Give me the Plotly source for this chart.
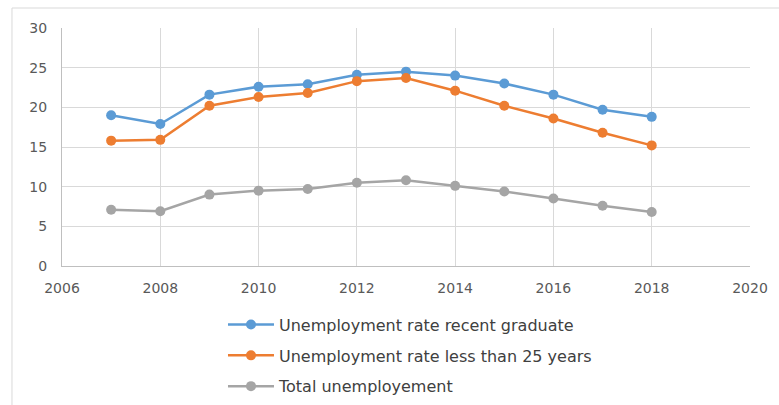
import plotly.graph_objects as go

years = [2007, 2008, 2009, 2010, 2011, 2012, 2013, 2014, 2015, 2016, 2017, 2018]
recent_graduate = [19.0, 17.9, 21.6, 22.6, 22.9, 24.1, 24.5, 24.0, 23.0, 21.6, 19.7, 18.8]
less_than_25 = [15.8, 15.9, 20.2, 21.3, 21.8, 23.3, 23.7, 22.1, 20.2, 18.6, 16.8, 15.2]
total_unemployment = [7.1, 6.9, 9.0, 9.5, 9.7, 10.5, 10.8, 10.1, 9.4, 8.5, 7.6, 6.8]
series_names = ["Unemployment rate recent graduate",
                "Unemployment rate less than 25 years",
                "Total unemployement"]
colors = ["#5B9BD5", "#ED7D31", "#A5A5A5"]
x_ticks = [2006, 2008, 2010, 2012, 2014, 2016, 2018, 2020]
y_ticks = [0, 5, 10, 15, 20, 25, 30]

fig = go.Figure()
for i, (name, vals) in enumerate(zip(series_names, [recent_graduate, less_than_25, total_unemployment])):
    fig.add_trace(go.Scatter(
        x=years, y=vals, name=name, mode="lines+markers",
        line=dict(color=colors[i], width=2.5),
        marker=dict(color=colors[i], size=10),
        legendgroup=f"g{i}",
    ))

fig.update_layout(
    width=779, height=405,
    margin=dict(l=62, r=29, t=28, b=139, autoexpand=False),
    paper_bgcolor="white", plot_bgcolor="white",
    font=dict(family="DejaVu Sans, sans-serif", color="#595959", size=14),
    showlegend=True,
    legend=dict(
        orientation="v", x=0.234, xanchor="left", y=-0.175, yanchor="top",
        font=dict(size=16, color="#404040"), itemwidth=46, tracegroupgap=7,
        bgcolor="rgba(0,0,0,0)",
    ),
    shapes=[
        dict(type="line", xref="paper", yref="paper", x0=-0.0727, x1=1.2, y0=1.084, y1=1.084,
             line=dict(color="#d9d9d9", width=1)),
        dict(type="line", xref="paper", yref="paper", x0=-0.0727, x1=-0.0727, y0=1.084, y1=-0.7,
             line=dict(color="#d9d9d9", width=1)),
    ],
)
fig.update_xaxes(
    range=[2006, 2020], tickvals=x_ticks, ticktext=[str(t) for t in x_ticks],
    showgrid=True, gridcolor="#d9d9d9", gridwidth=1,
    showline=True, linecolor="#bfbfbf", linewidth=1, mirror=False,
    zeroline=False, ticks="", ticklabelstandoff=9, automargin=False,
)
fig.update_yaxes(
    range=[0, 30], tickvals=y_ticks,
    showgrid=True, gridcolor="#d9d9d9", gridwidth=1,
    showline=True, linecolor="#bfbfbf", linewidth=1,
    zeroline=False, ticks="", ticklabelstandoff=11, automargin=False,
)

fig.write_html("out.html", config={"displayModeBar": False},
               post_script="document.body.style.margin='0px';")
